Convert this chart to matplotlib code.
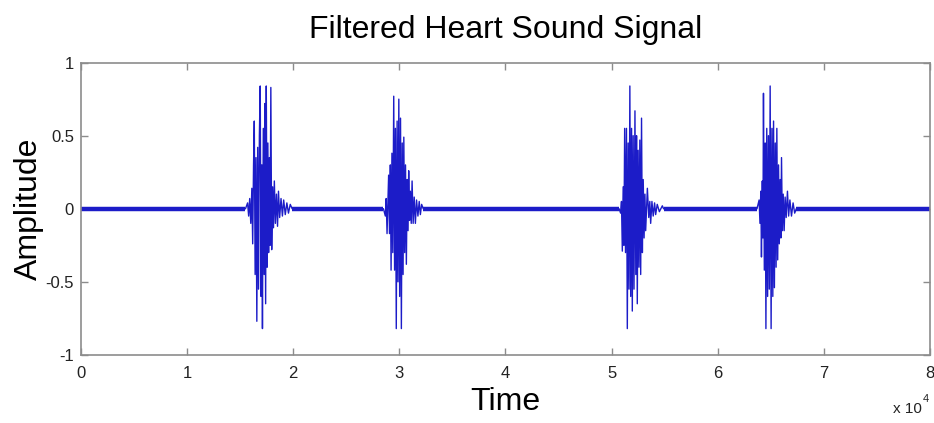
import numpy as np
import matplotlib
matplotlib.use("Agg")
import matplotlib.pyplot as plt

# ---- data (sample index, amplitude) ----
burst1_t = [15500, 15700, 15800, 15900, 16000, 16100, 16180, 16260, 16330, 16410,
            16490, 16570, 16650, 16730, 16810, 16890, 16970, 17040, 17100, 17180,
            17260, 17320, 17400, 17460, 17540, 17610, 17680, 17750, 17820, 17890,
            17970, 18060, 18140, 18220, 18320, 18420, 18520, 18610, 18720, 18850,
            18980, 19100, 19250, 19400, 19550, 19720, 19900]
burst1_a = [0.0, 0.04, -0.05, 0.07, -0.10, 0.14, -0.24, 0.30, 0.60, -0.45,
            0.35, -0.77, 0.42, -0.55, 0.50, 0.84, -0.60, 0.30, -0.82, 0.55,
            -0.45, 0.72, -0.65, 0.84, -0.40, 0.45, -0.30, 0.35, -0.25, 0.83,
            -0.28, 0.15, -0.13, 0.19, -0.10, 0.10, -0.12, 0.12, -0.06, 0.07,
            -0.05, 0.06, -0.04, 0.04, -0.03, 0.03, 0.0]

burst2_t = [28500, 28680, 28760, 28840, 28990, 29070, 29150, 29220, 29300, 29380,
            29470, 29550, 29630, 29710, 29790, 29870, 29950, 30030, 30110, 30190,
            30270, 30350, 30420, 30500, 30580, 30660, 30740, 30820, 30880, 30960,
            31040, 31120, 31200, 31300, 31400, 31510, 31620, 31750, 31870, 31980,
            32100, 32250]
burst2_a = [0.0, -0.05, 0.07, -0.17, 0.23, -0.17, 0.30, -0.42, 0.38, -0.30,
            0.77, -0.42, 0.55, -0.82, 0.60, -0.50, 0.75, -0.60, 0.62, -0.82,
            0.45, -0.45, 0.49, -0.30, 0.30, -0.38, 0.20, -0.15, 0.26, -0.08,
            0.12, -0.10, 0.19, -0.10, 0.08, -0.10, 0.06, -0.05, 0.05, -0.04,
            0.03, 0.0]

burst3_t = [50700, 50850, 50930, 51010, 51090, 51160, 51230, 51310, 51400, 51480,
            51560, 51640, 51720, 51800, 51880, 51950, 52030, 52110, 52200, 52280,
            52350, 52420, 52500, 52580, 52660, 52740, 52820, 52900, 52980, 53060,
            53140, 53210, 53370, 53500, 53600, 53680, 53800, 53920, 54050, 54150,
            54300, 54500, 54780, 54900]
burst3_a = [0.0, -0.03, 0.05, -0.29, 0.15, -0.25, 0.55, -0.30, 0.55, -0.82,
            0.45, -0.55, 0.84, -0.60, 0.55, -0.70, 0.50, -0.55, 0.67, -0.45,
            0.50, -0.65, 0.40, -0.40, 0.47, -0.45, 0.62, -0.30, 0.20, -0.20,
            0.10, -0.15, 0.14, -0.06, 0.05, -0.10, 0.05, -0.05, 0.04, -0.04,
            0.03, -0.02, 0.02, 0.0]

burst4_t = [63700, 63900, 63980, 64060, 64120, 64200, 64260, 64310, 64390, 64470,
            64540, 64620, 64700, 64780, 64860, 64940, 65030, 65110, 65190, 65260,
            65340, 65420, 65500, 65570, 65650, 65730, 65800, 65880, 65950, 66010,
            66090, 66170, 66260, 66350, 66450, 66570, 66680, 66800, 66950, 67100,
            67250, 67400]
burst4_a = [0.0, 0.06, -0.10, 0.12, -0.33, 0.19, -0.20, 0.79, -0.42, 0.45,
            -0.82, 0.55, -0.60, 0.50, -0.55, 0.84, -0.82, 0.55, -0.60, 0.60,
            -0.54, 0.45, -0.40, 0.55, -0.35, 0.30, -0.24, 0.20, -0.20, 0.35,
            -0.15, 0.10, -0.15, 0.08, -0.06, 0.12, -0.05, 0.06, -0.05, 0.04,
            -0.03, 0.0]

n_samples = 80000
x_ticks = [0, 10000, 20000, 30000, 40000, 50000, 60000, 70000, 80000]
x_ticklabels = ["0", "1", "2", "3", "4", "5", "6", "7", "8"]
y_ticks = [-1, -0.5, 0, 0.5, 1]
y_ticklabels = ["-1", "-0.5", "0", "0.5", "1"]

bursts_t = [burst1_t, burst2_t, burst3_t, burst4_t]
bursts_a = [burst1_a, burst2_a, burst3_a, burst4_a]

t = [0]
a = [0.0]
for bt, ba in zip(bursts_t, bursts_a):
    t += bt
    a += ba
t.append(n_samples)
a.append(0.0)

# quiet stretches between the bursts
quiet_start = [0] + [bt[-1] for bt in bursts_t]
quiet_end = [bt[0] for bt in bursts_t] + [n_samples]

# ---- plot ----
plt.rcParams["font.family"] = ["Liberation Sans", "DejaVu Sans"]
line_col = "#1c1cc8"
spine_col = "#8c8c8c"
txt_col = "#222222"

fig = plt.figure(figsize=(9.34, 4.23), dpi=100)
fig.set_facecolor("white")
ax = fig.add_axes([0.0867, 0.161, 0.909, 0.691])

ax.plot(t, a, color=line_col, lw=1.0)
ax.hlines(np.zeros(len(quiet_start)), quiet_start, quiet_end, color=line_col, lw=3.2)

ax.set_xlim(0, n_samples)
ax.set_ylim(-1, 1)
ax.set_xticks(x_ticks)
ax.set_xticklabels(x_ticklabels)
ax.set_yticks(y_ticks)
ax.set_yticklabels(y_ticklabels)

for s in ax.spines.values():
    s.set_color(spine_col)
    s.set_linewidth(1.2)
ax.tick_params(direction="in", length=5, width=1, color=spine_col,
               top=True, right=True, labelsize=12, labelcolor=txt_col)
ax.tick_params(axis="x", pad=8)
ax.tick_params(axis="y", pad=5)

ax.set_title("Filtered Heart Sound Signal", fontsize=23, pad=18)
ax.set_xlabel("Time", fontsize=23, labelpad=4)
ax.set_ylabel("Amplitude", fontsize=23, labelpad=1)

# MATLAB-style exponent under the right end of the x axis
fig.text(922 / 934, 1 - 413 / 423, "x 10", ha="right", va="baseline",
         fontsize=11, color=txt_col)
fig.text(923 / 934, 1 - 402 / 423, "4", ha="left", va="baseline",
         fontsize=8, color=txt_col)

fig.savefig("out.png", dpi=100, facecolor="white")
